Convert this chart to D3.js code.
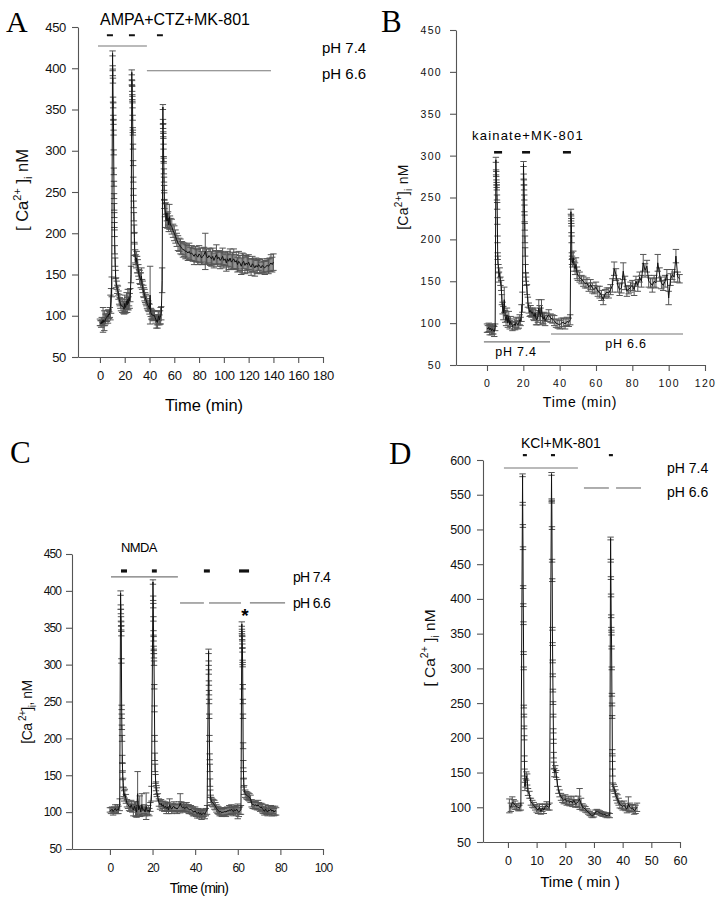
<!DOCTYPE html>
<html><head><meta charset="utf-8">
<script src="https://cdn.jsdelivr.net/npm/d3@7/dist/d3.min.js"></script>
<style>body{margin:0;background:#fff}</style>
</head><body><svg id="c" width="718" height="900"></svg>
<script>
// ===== DATA: [time (min), mean [Ca2+]i (nM), s.e.m.] =====
const panelA = [
[0,92,4],[0.5,91,3],[1,90,4],[1.5,93,5],[2,91,3],[2.5,95,15],[3,92,4],[3.5,94,12],[4,93,5],[4.5,96,6],[5,97,4],[5.5,98,5],[6,100,6],[6.5,99,8],[7,102,5],[7.5,101,4],[8,104,6],[8.5,110,15],[9,118,15],[9.5,135,12],
[10.2,418,3],[10.3,400,3],[10.4,395,4],[10.5,385,3],[10.6,362,3],[10.7,355,3],[10.8,340,3],[10.9,335,3],[11.0,322,3],[11.1,298,3],[11.2,275,4],[11.3,260,3],[11.4,245,3],[11.5,232,4],[11.6,222,3],[11.7,210,3],[11.8,200,4],[12.0,180,5],[12.3,165,5],[12.6,150,5],[13.0,140,6],[13.5,137,5],[14,132,5],[14.5,130,6],[15,125,5],[15.5,120,6],[16,117,5],[16.5,115,6],[17,112,6],[18,112,8],[19,110,7],[19.5,108,6],[20,115,10],[20.5,110,7],[21,112,8],[21.5,118,10],[22,113,9],[22.5,120,12],[23,115,8],[23.5,122,10],[24,118,9],[24.5,125,8],[25.1,150,10],
[25.7,395,3],[25.8,383,3],[25.9,382,3],[26.0,375,3],[26.1,365,3],[26.2,363,3],[26.3,355,3],[26.4,340,3],[26.5,325,3],[26.6,322,3],[26.7,305,3],[26.8,285,3],[26.9,265,3],[27.0,250,4],[27.2,235,4],[27.4,220,5],[27.6,205,5],[27.8,195,6],[28,180,7],[28.4,172,8],[28.8,168,6],[29.2,165,7],[29.6,170,8],[30,162,10],[30.5,160,8],[31,155,7],[31.5,150,6],[32,147,8],[32.5,145,7],[33,143,9],[33.5,148,10],[34,138,6],[34.5,135,7],[35,130,7],[35.5,128,6],[36,125,7],[36.5,122,6],[37,120,6],[37.5,118,6],[38,115,6],[38.5,113,6],[39,112,6],[39.5,110,5],[40,108,6],[40.5,125,35],[41,104,5],[41.5,102,6],[42,101,6],[42.5,101,5],[43,100,6],[43.5,101,5],[44,100,6],[45,96,5],[45.5,93,8],[46,95,6],[46.5,92,7],[47,97,8],[47.5,100,6],[48,95,6],[48.5,98,8],[49,100,10],[49.5,103,8],[50.2,143,15],
[50.8,353,3],[50.9,335,3],[51.0,330,3],[51.1,320,3],[51.2,318,3],[51.3,305,3],[51.4,290,3],[51.5,288,3],[51.6,275,3],[51.7,265,3],[51.8,255,3],[51.9,245,4],[52,235,5],[52.5,228,8],[53,222,15],[53.5,215,8],[54,225,10],[54.5,215,9],[55,218,8],[55.5,210,8],[56,220,15],[56.5,213,8],[57,210,8],[58,208,9],[59,203,8],[60,200,9],[61,196,8],[62,192,8],[63,188,9],[64,186,8],[65,184,9],[66,182,8],[67,180,9],[68,180,8],[69,178,9],[70,178,8],[71,176,9],[72,178,10],[73,175,8],[74,176,9],[75,174,8],[76,172,10],[77,175,9],[78,173,8],[79,171,9],[80,175,10],[81,173,9],[82,170,8],[83,172,10],[84,174,9],[85,178,22],[86,172,9],[87,170,8],[88,173,9],[89,171,10],[90,169,9],[91,172,10],[92,167,9],[93,171,8],[94,174,12],[95,169,9],[96,171,8],[97,167,10],[98,169,9],[99,172,10],[100,167,9],[101,169,8],[102,164,10],[103,169,9],[104,166,10],[105,170,11],[106,165,9],[107,167,10],[108,169,12],[109,165,9],[110,167,10],[111,162,9],[112,166,12],[113,164,9],[114,160,10],[115,164,12],[116,166,9],[117,161,10],[118,164,9],[119,162,10],[120,165,9],[121,161,8],[122,159,10],[123,163,9],[124,161,8],[125,158,10],[126,161,9],[127,159,8],[128,162,7],[129,160,8],[130,158,7],[131,161,8],[132,159,7],[133,158,8],[134,160,7],[135,161,8],[136,160,9],[137,162,8],[138,164,10],[139,162,9],[140,165,10]
];
const panelB = [
[0,94,5],[0.5,93,4],[1,95,5],[1.5,92,6],[2,94,4],[2.5,91,5],[3,93,6],[3.5,92,5],[4,90,6],[4.5,95,4],
[4.9,295,3],[5.0,280,3],[5.1,278,3],[5.2,268,3],[5.3,265,3],[5.4,262,3],[5.5,250,3],[5.6,240,4],[5.7,222,4],[5.8,200,4],[5.9,180,4],[6.0,175,5],[6.3,165,5],[6.6,155,6],[7.0,160,6],[7.4,150,5],[7.8,145,6],[8.2,128,6],[8.6,118,7],[9.0,112,8],[9.5,128,15],[10,108,7],[10.5,103,6],[11,110,8],[11.5,100,5],[12,108,6],[12.5,98,5],[13,102,6],[14,96,5],[15,99,6],[15.5,97,5],[16,101,6],[17,98,5],[17.5,100,6],[18,104,6],[18.5,102,5],[19,112,10],[19.5,125,12],
[20.1,290,3],[20.2,275,3],[20.3,268,3],[20.4,262,3],[20.5,250,3],[20.6,237,4],[20.7,225,4],[20.8,215,4],[20.9,200,4],[21.0,185,5],[21.2,165,5],[21.4,155,5],[21.6,150,5],[22,140,6],[22.5,125,6],[23,118,6],[23.5,113,5],[24,115,6],[24.5,112,5],[25,113,5],[25.5,110,6],[26,108,5],[26.5,112,6],[27,105,7],[27.5,104,6],[28,108,7],[28.5,118,10],[29,112,9],[29.5,108,10],[30,120,8],[30.5,106,6],[31,105,6],[31.5,108,5],[32,103,6],[33,107,5],[34,110,6],[35,106,5],[36,105,5],[37,103,6],[38,100,5],[39,99,5],[40,98,5],[41,100,6],[42,101,5],[43,99,6],[44,102,5],[45,101,5],[45.8,104,6],
[46.2,233,3],[46.3,225,3],[46.4,222,3],[46.5,212,4],[46.6,200,4],[46.7,180,4],[46.8,175,5],[47,172,5],[47.5,178,8],[48,168,6],[48.5,165,7],[49,170,8],[49.5,160,7],[50,157,6],[51,155,6],[52,152,5],[53,150,6],[54,147,5],[55,148,6],[56,143,5],[57,146,6],[58,142,6],[59,140,5],[60,143,6],[61,138,6],[62,137,7],[63,133,6],[64,128,6],[65,135,5],[66,137,5],[67,136,6],[68,140,6],[69,145,8],[70,165,8],[71,158,7],[72,145,8],[73,140,7],[74,142,6],[75,162,10],[76,148,8],[77,138,6],[78,140,5],[79,143,6],[80,145,6],[81,140,7],[82,150,6],[83,145,7],[84,155,6],[85,150,7],[86,172,10],[87,163,8],[88,168,7],[89,150,7],[90,148,6],[91,145,8],[92,150,7],[93,148,6],[94,172,10],[95,158,8],[96,148,7],[97,145,6],[98,150,7],[99,158,6],[100,130,8],[101,152,7],[102,158,6],[103,155,6],[104,180,8],[105,155,6],[106,153,5]
];
const panelC = [
[0,103,3],[0.5,102,4],[1,104,3],[1.5,101,5],[2,103,4],[2.5,105,5],[3,102,4],[3.5,104,6],[4,103,5],[4.6,110,8],
[5.0,397,3],[5.1,378,3],[5.15,372,3],[5.2,362,3],[5.25,355,3],[5.3,350,3],[5.35,342,3],[5.4,305,3],[5.5,242,3],[5.55,230,3],[5.6,215,3],[5.7,200,4],[5.8,172,5],[5.9,160,6],[6.0,150,6],[6.2,140,6],[6.4,127,6],[6.7,122,7],[7,125,6],[7.5,118,6],[8,112,5],[8.5,110,5],[9,108,6],[9.5,106,5],[10,110,6],[10.5,105,5],[11,103,8],[11.5,108,6],[12,104,10],[12.5,100,7],[13,125,30],[13.5,103,6],[14,108,14],[14.5,100,5],[15,110,15],[15.5,102,5],[16,104,6],[16.5,100,5],[17,108,18],[17.5,101,5],[18,103,6],[18.5,100,5],[19,107,6],[19.5,125,10],
[20.2,412,3],[20.3,390,3],[20.35,380,3],[20.4,362,3],[20.45,343,3],[20.5,335,3],[20.55,322,3],[20.6,318,3],[20.65,312,3],[20.7,302,3],[20.8,270,3],[20.9,240,4],[21.0,200,4],[21.1,175,5],[21.2,160,5],[21.4,145,6],[21.6,135,6],[21.8,130,6],[22,127,6],[22.5,120,5],[23,113,5],[23.5,110,6],[24,112,5],[24.5,108,6],[25,110,5],[25.5,106,5],[26,108,6],[26.5,105,7],[27,107,6],[27.5,103,5],[28,110,8],[28.5,106,5],[29,104,6],[29.5,107,5],[30,108,6],[30.5,105,5],[31,106,5],[31.5,104,6],[32,106,5],[32.5,108,6],[33,112,13],[33.5,108,6],[34,106,5],[34.5,107,6],[35,105,5],[35.5,106,5],[36,107,6],[36.5,105,5],[37,104,6],[37.5,103,5],[38,104,5],[38.5,102,5],[39,101,6],[39.5,100,5],[40,102,5],[40.5,99,5],[41,98,6],[41.5,100,5],[42,97,5],[42.5,99,5],[43,96,6],[43.5,98,5],[44,99,5],[44.5,97,6],[45,100,5],[45.6,103,6],
[46.3,318,3],[46.35,302,3],[46.4,290,3],[46.45,275,3],[46.5,262,3],[46.55,250,3],[46.6,230,3],[46.7,200,4],[46.8,175,4],[46.9,160,5],[47,140,5],[47.1,125,5],[47.3,118,5],[47.6,115,5],[48,113,5],[48.5,112,5],[49,110,6],[49.5,108,5],[50,105,5],[50.5,103,5],[51,102,5],[51.5,100,5],[52,101,5],[52.5,99,5],[53,100,5],[53.5,100,5],[54,101,5],[54.5,100,6],[55,102,5],[55.5,101,5],[56,103,6],[56.5,102,5],[57,104,6],[57.5,102,5],[58,101,6],[58.5,103,5],[59,102,6],[59.5,104,5],[60,101,10],[60.5,100,6],[61,102,5],[61.5,103,6],
[61.9,355,3],[61.95,345,3],[62,342,3],[62.05,337,3],[62.1,335,3],[62.15,325,3],[62.2,320,3],[62.25,303,3],[62.3,300,3],[62.35,270,3],[62.4,250,3],[62.45,230,3],[62.5,190,4],[62.6,165,5],[62.7,150,5],[62.8,140,6],[63,130,6],[63.5,125,5],[64,123,5],[64.5,122,5],[65,121,5],[65.5,120,5],[66,118,5],[66.5,112,5],[67,110,5],[67.5,110,5],[68,109,5],[68.5,110,5],[69,108,5],[69.5,110,6],[70,108,5],[70.5,106,5],[71,107,5],[71.5,105,6],[72,103,5],[72.5,101,5],[73,104,6],[73.5,102,5],[74,100,5],[74.5,103,6],[75,102,5],[75.5,104,5],[76,101,6],[76.5,103,5],[77,100,5],[77.5,102,6],[78,101,5]
];
const panelD = [
[0.5,102,10],[1,100,6],[1.5,107,8],[2,106,5],[2.5,103,6],[3,101,4],[3.5,100,5],[4,99,4],[4.5,101,5],
[5.1,578,2],[5.15,537,2],[5.2,505,2],[5.25,473,2],[5.3,417,2],[5.35,391,2],[5.4,365,2],[5.45,322,2],[5.5,300,2],[5.55,245,2],[5.6,232,2],[5.65,215,2],[5.7,200,3],[5.75,170,4],[5.8,150,5],[5.9,130,6],[6.1,135,6],[6.4,145,6],[6.7,140,8],[7,122,5],[7.5,118,5],[8,108,5],[8.5,105,5],[9,103,4],[9.5,100,4],[10,98,5],[10.5,96,5],[11,100,5],[11.5,94,4],[12,99,5],[12.5,96,5],[13,101,4],[13.5,103,5],[14,100,4],[14.5,101,5],
[15.2,580,2],[15.25,542,2],[15.3,540,2],[15.35,502,2],[15.4,455,2],[15.45,427,2],[15.5,357,2],[15.55,335,2],[15.6,310,2],[15.65,290,2],[15.7,268,2],[15.75,250,2],[15.8,232,2],[15.85,210,3],[15.9,195,3],[15.95,175,4],[16,160,5],[16.2,150,6],[16.5,155,5],[16.8,148,5],[17.2,135,5],[17.6,125,5],[18,120,5],[18.5,115,5],[19,112,5],[19.5,110,5],[20,112,6],[20.5,108,5],[21,110,6],[21.5,107,5],[22,109,6],[22.5,106,5],[23,110,6],[23.5,105,5],[24,106,5],[24.5,108,8],[25,112,15],[25.5,105,8],[26,100,5],[26.5,99,4],[27,97,4],[27.5,95,3],[28,93,3],[28.5,91,3],[29,89,3],[29.5,88,3],[30,89,3],[30.5,93,3],[31,94,3],[31.5,93,3],[32,92,3],[32.5,91,3],[33,90,3],[33.5,90,3],[34,89,3],[34.5,88,3],[35,89,3],[35.5,88,3],
[35.8,487,2],[35.85,455,2],[35.9,430,2],[35.95,405,2],[36,375,2],[36.05,357,2],[36.1,350,2],[36.15,330,2],[36.2,300,2],[36.25,262,2],[36.3,248,2],[36.35,230,2],[36.4,180,3],[36.45,170,4],[36.5,150,5],[36.6,130,5],[36.9,128,5],[37.2,125,5],[37.5,120,5],[37.8,115,5],[38.2,112,6],[38.6,108,5],[39,104,5],[39.5,103,5],[40,101,5],[40.5,103,6],[41,100,5],[41.5,97,5],[42,105,10],[42.5,100,6],[43,98,5],[43.5,99,5],[44,95,5],[44.5,97,6],[45,100,6]
];
// tick labels
const aXTicks = [0,20,40,60,80,100,120,140,160,180];
const bXTicks = [0,20,40,60,80,100,120];
const cXTicks = [0,20,40,60,80,100];
const dXTicks = [0,10,20,30,40,50,60];
const yTicks450 = [50,100,150,200,250,300,350,400,450];
const dYTicks = [50,100,150,200,250,300,350,400,450,500,550,600];
// drug applications [start, end] (min) and pH periods [start, end, level nM]
const aDrug = [[5.6,10.5],[23.4,28.2],[46,50.8]];
const aPh = [[-1.6,37.9,427],[37.9,138,397]];
const bDrug = [[3.9,8.3],[19.3,23.7],[41.8,46.2]];
const bPh = [[-1.7,34.7,77.5],[35.2,107.9,87]];
const cDrug = [[5.2,8],[19.7,22],[44.1,46.9],[60.6,65.3]];
const cPh = [[0.5,31.9,419],[32.9,44.1,383.6],[46.5,61.5,383.6],[65.7,82.2,383.6]];
const dDrug = [[5.2,6.6],[15,16.4],[35.2,36.6]];
const dPh = [[-1.4,24.4,588.5],[26.5,35.2,559.7],[37.7,46.4,559.7]];

const svg = d3.select("#c");
const SANS = "'Liberation Sans', Arial, sans-serif";
const SERIF = "'Liberation Serif', 'Times New Roman', serif";

function yLabel(g, x, y, size, ls, parts) {
  const t = g.append("text").attr("transform", `translate(${x},${y}) rotate(-90)`)
    .attr("text-anchor", "middle").attr("font-family", SANS).attr("font-size", size)
    .attr("letter-spacing", ls).attr("fill", "#111");
  let cur = 0;
  parts.forEach(p => {
    const s = t.append("tspan").text(p[0]);
    const dy = p[1] - cur; cur = p[1];
    if (dy) s.attr("dy", dy);
    if (p[2]) s.attr("font-size", p[2]);
  });
}

function panel(o) {
  const g = svg.append("g");
  const x = d3.scaleLinear().domain(o.xd).range(o.xr);
  const y = d3.scaleLinear().domain(o.yd).range(o.yr);
  const ax = g.append("g").attr("transform", `translate(0,${o.yr[0]})`)
    .call(d3.axisBottom(x).tickValues(o.xt).tickSize(6).tickSizeOuter(0).tickPadding(o.xpad));
  const ay = g.append("g").attr("transform", `translate(${o.xr[0]},0)`)
    .call(d3.axisLeft(y).tickValues(o.yt).tickSize(6).tickSizeOuter(0).tickPadding(o.ypad));
  [ax, ay].forEach(a => {
    a.selectAll("path,line").attr("stroke", "#555").attr("stroke-width", 1.1);
    a.selectAll("text").attr("font-family", SANS).attr("font-size", o.tfs)
      .attr("letter-spacing", o.tls).attr("fill", "#111");
  });
  // error bars
  const cap = o.cap;
  g.append("g").selectAll("path").data(o.data).join("path")
    .attr("d", d => {
      const cx = x(d[0]), y1 = y(d[1] - d[2]), y2 = y(d[1] + d[2]);
      return `M${cx},${y1}V${y2}M${cx - cap},${y1}H${cx + cap}M${cx - cap},${y2}H${cx + cap}`;
    })
    .attr("fill", "none").attr("stroke", "#555").attr("stroke-width", 1);
  g.append("path").datum(o.data)
    .attr("d", d3.line().x(d => x(d[0])).y(d => y(d[1])))
    .attr("fill", "none").attr("stroke", "#111").attr("stroke-width", 1);
  // drug bars
  g.append("g").selectAll("line").data(o.drug).join("line")
    .attr("x1", d => x(d[0])).attr("x2", d => x(d[1]))
    .attr("y1", y(o.drugLevel)).attr("y2", y(o.drugLevel))
    .attr("stroke", "#111").attr("stroke-width", o.drugW);
  // pH lines
  g.append("g").selectAll("line").data(o.ph).join("line")
    .attr("x1", d => x(d[0])).attr("x2", d => x(d[1]))
    .attr("y1", d => y(d[2])).attr("y2", d => y(d[2]))
    .attr("stroke", "#777").attr("stroke-width", 1.2);
  return g;
}

// ---- Panel A
const gA = panel({xd:[-17.7,180], xr:[78,323], yd:[50,450], yr:[357,27], xt:aXTicks, yt:yTicks450,
  xpad:8, ypad:6, tfs:13, tls:-0.3, cap:3.2, data:panelA, drug:aDrug, drugLevel:440, drugW:2, ph:aPh});
gA.append("text").attr("x",6).attr("y",32).attr("font-family",SERIF).attr("font-size",30).text("A");
gA.append("text").attr("x",100).attr("y",25).attr("font-family",SANS).attr("font-size",16).text("AMPA+CTZ+MK-801");
gA.append("text").attr("x",322).attr("y",53).attr("font-family",SANS).attr("font-size",15).text("pH 7.4");
gA.append("text").attr("x",322).attr("y",79).attr("font-family",SANS).attr("font-size",15).text("pH 6.6");
gA.append("text").attr("x",204).attr("y",411).attr("text-anchor","middle").attr("font-family",SANS).attr("font-size",16.5).text("Time (min)");
yLabel(gA, 28, 190, 16.5, 0, [["[ Ca",0],["2+",-7,11],[" ]",0],["i",4,11],[" nM",0]]);

// ---- Panel B
const gB = panel({xd:[-17.06,120], xr:[456,705], yd:[50,450], yr:[365,30], xt:bXTicks, yt:yTicks450,
  xpad:9, ypad:8, tfs:10.5, tls:1.3, cap:3.2, data:panelB, drug:bDrug, drugLevel:304, drugW:2.6, ph:bPh});
gB.append("text").attr("x",381).attr("y",32).attr("font-family",SERIF).attr("font-size",31).text("B");
gB.append("text").attr("x",472).attr("y",140).attr("font-family",SANS).attr("font-size",13).attr("letter-spacing",1.2).text("kainate+MK-801");
gB.append("text").attr("x",516).attr("y",356).attr("text-anchor","middle").attr("font-family",SANS).attr("font-size",12.5).attr("letter-spacing",0.8).text("pH 7.4");
gB.append("text").attr("x",626).attr("y",348).attr("text-anchor","middle").attr("font-family",SANS).attr("font-size",12.5).attr("letter-spacing",0.8).text("pH 6.6");
gB.append("text").attr("x",580).attr("y",407).attr("text-anchor","middle").attr("font-family",SANS).attr("font-size",14).attr("letter-spacing",0.8).text("Time (min)");
yLabel(gB, 408, 197, 14, 0.3, [["[Ca",0],["2+",-6,10],["]",0],["i",4,10],[" nM",0]]);

// ---- Panel C
const gC = panel({xd:[-17.8,100], xr:[72,323], yd:[50,450], yr:[849,554], xt:cXTicks, yt:yTicks450,
  xpad:8, ypad:5, tfs:12, tls:-0.9, cap:3.2, data:panelC, drug:cDrug, drugLevel:427, drugW:3.2, ph:cPh});
gC.append("text").attr("x",10).attr("y",463).attr("font-family",SERIF).attr("font-size",31).text("C");
gC.append("text").attr("x",121).attr("y",552).attr("font-family",SANS).attr("font-size",13).attr("letter-spacing",-0.6).text("NMDA");
gC.append("text").attr("x",293).attr("y",582).attr("font-family",SANS).attr("font-size",14).attr("letter-spacing",-0.7).text("pH 7.4");
gC.append("text").attr("x",293).attr("y",608).attr("font-family",SANS).attr("font-size",14).attr("letter-spacing",-0.7).text("pH 6.6");
gC.append("text").attr("x",245).attr("y",622).attr("text-anchor","middle").attr("font-family",SANS).attr("font-size",19).attr("font-weight","bold").text("*");
gC.append("text").attr("x",199).attr("y",893).attr("text-anchor","middle").attr("font-family",SANS).attr("font-size",14).attr("letter-spacing",-0.8).text("Time (min)");
yLabel(gC, 32, 712, 14, -0.5, [["[Ca",0],[" 2+",-6,10],["]",0],["i",4,10],[", nM",0]]);

// ---- Panel D
const gD = panel({xd:[-8.7,60], xr:[483,680], yd:[50,600], yr:[842,460], xt:dXTicks, yt:dYTicks,
  xpad:8, ypad:6, tfs:12.5, tls:0, cap:3.2, data:panelD, drug:dDrug, drugLevel:607, drugW:2.2, ph:dPh});
gD.append("text").attr("x",389).attr("y",464).attr("font-family",SERIF).attr("font-size",31).text("D");
gD.append("text").attr("x",521).attr("y",448).attr("font-family",SANS).attr("font-size",14).text("KCl+MK-801");
gD.append("text").attr("x",667).attr("y",473).attr("font-family",SANS).attr("font-size",14).text("pH 7.4");
gD.append("text").attr("x",667).attr("y",497).attr("font-family",SANS).attr("font-size",14).text("pH 6.6");
gD.append("text").attr("x",580).attr("y",887).attr("text-anchor","middle").attr("font-family",SANS).attr("font-size",15).text("Time ( min )");
yLabel(gD, 435, 648, 15.5, 0, [["[ Ca",0],["2+",-7,10.5],[" ]",0],["i",4,10.5],[" nM",0]]);
</script>
</body></html>
